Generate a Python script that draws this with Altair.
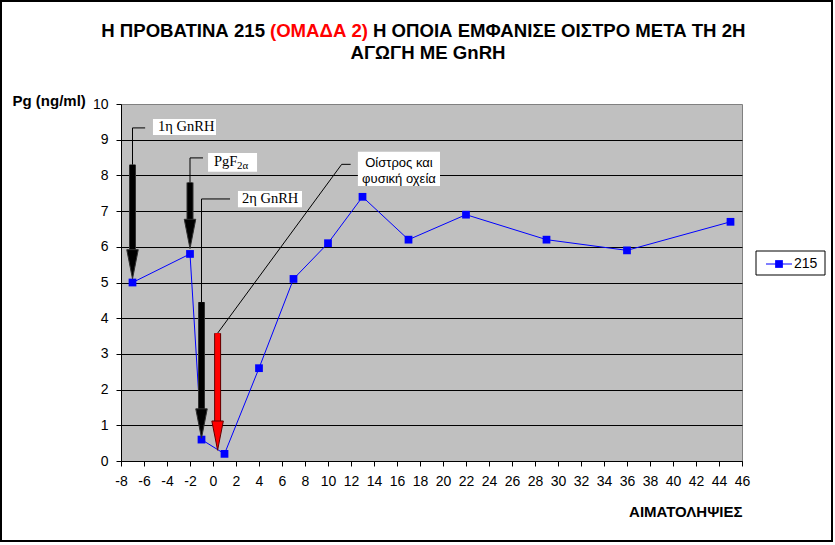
import altair as alt
import pandas as pd

# ---------------- data ----------------
days = [-7, -2, -1, 1, 4, 7, 10, 13, 17, 22, 29, 36, 45]
pg = [5.0, 5.8, 0.6, 0.2, 2.6, 5.1, 6.1, 7.4, 6.2, 6.9, 6.2, 5.9, 6.7]
series_name = "215"

x_ticks = list(range(-8, 47, 2))
y_ticks = list(range(0, 11))

title_left = "Η ΠΡΟΒΑΤΙΝΑ 215"
title_red = "(ΟΜΑΔΑ 2)"
title_right = "Η ΟΠΟΙΑ ΕΜΦΑΝΙΣΕ ΟΙΣΤΡΟ ΜΕΤΑ ΤΗ 2Η"
title_line2 = "ΑΓΩΓΗ ΜΕ GnRH"
y_title = "Pg (ng/ml)"
x_title = "ΑΙΜΑΤΟΛΗΨΙΕΣ"

# annotation arrows (data units)
arrow_x = [-7, -2, -1, 0.4]
arrow_top = [8.3, 7.8, 4.45, 3.58]
arrow_tip = [5.1, 5.95, 0.64, 0.3]
arrow_fill = ["#000000", "#000000", "#000000", "#FF0000"]
arrow_edge = ["#303030", "#303030", "#303030", "#600000"]

# leader lines (data units)
lead_x = [-7, -7, -2, -2, -1, -1, 0.4, 11.19]
lead_y = [8.3, 9.33, 7.8, 8.49, 4.45, 7.34, 3.58, 8.31]
lead_x2 = [-7, -5.9, -2, -0.87, -1, 1.48, 11.19, 11.97]
lead_y2 = [9.33, 9.33, 8.49, 8.49, 7.34, 7.34, 8.31, 8.31]

# label boxes (data units)
box_x = [-5.22, -0.43, 2.17, 12.6]
box_x2 = [0.26, 3.83, 7.74, 19.74]
box_y = [9.58, 8.63, 7.56, 8.66]
box_y2 = [9.13, 8.10, 7.11, 7.70]

serif_text = ["1η GnRH", "PgF", "2η GnRH"]
serif_x = [-4.78, 0.09, 2.52]
serif_y = [9.36, 8.38, 7.34]
sub_text = ["2α"]
sub_x = [2.09]
sub_y = [8.27]
sans_text = ["Οίστρος και", "φυσική οχεία"]
sans_x = [16.17, 16.17]
sans_y = [8.35, 7.9]

# ---------------- tables ----------------
df = pd.DataFrame({"day": days, "pg": pg, "series": series_name})
arrows = pd.DataFrame({"x": arrow_x, "top": arrow_top, "tip": arrow_tip,
                       "fill": arrow_fill, "edge": arrow_edge})
leads = pd.DataFrame({"x": lead_x, "y": lead_y, "x2": lead_x2, "y2": lead_y2})
boxes = pd.DataFrame({"x": box_x, "x2": box_x2, "y": box_y, "y2": box_y2})
serif = pd.DataFrame({"x": serif_x, "y": serif_y, "t": serif_text})
sub = pd.DataFrame({"x": sub_x, "y": sub_y, "t": sub_text})
sans = pd.DataFrame({"x": sans_x, "y": sans_y, "t": sans_text})
one = pd.DataFrame({"a": [0]})

FONT = "Liberation Sans"
SERIF = "Liberation Serif"

xscale = alt.Scale(domain=[-8, 46], nice=False, zero=False)
yscale = alt.Scale(domain=[0, 10], nice=False)
xaxis = alt.Axis(values=x_ticks, grid=False, title=x_title, labelFont=FONT,
                 labelFontSize=14, labelColor="black", labelPadding=8,
                 labelExpr="datum.value + ''",
                 tickColor="black", tickSize=5, domainColor="black",
                 titleFont=FONT, titleFontSize=15, titleFontWeight="bold",
                 titleColor="black", titleX=621, titleY=55, titleAlign="right",
                 titleBaseline="alphabetic", labelFlush=False, labelOverlap=False)
yaxis = alt.Axis(values=y_ticks, grid=True,
                 gridColor={"condition": {"test": "datum.value >= 10", "value": "transparent"},
                            "value": "black"},
                 gridWidth=1, title=y_title, labelFont=FONT, labelFontSize=14,
                 labelExpr="datum.value + ''",
                 labelColor="black", labelPadding=8, tickColor="black", tickSize=5,
                 domainColor="black", titleFont=FONT, titleFontSize=15,
                 titleFontWeight="bold", titleColor="black", titleAngle=0,
                 titleX=-109, titleY=1, titleAlign="left", titleBaseline="alphabetic",
                 labelFlush=False)


def X(f):
    return alt.X(f, type="quantitative", scale=xscale, axis=xaxis)


def Y(f):
    return alt.Y(f, type="quantitative", scale=yscale, axis=yaxis)


BLUE = "#0000FF"

line = alt.Chart(df).mark_line(color=BLUE, strokeWidth=1).encode(x=X("day"), y=Y("pg"))
pts = alt.Chart(df).mark_point(shape="square", filled=True, size=60, color=BLUE,
                               opacity=1).encode(x=X("day"), y=Y("pg"))

leaders = alt.Chart(leads).mark_rule(color="black", strokeWidth=1).encode(
    x=X("x"), y=Y("y"), x2="x2:Q", y2="y2:Q")

shaft_edge = alt.Chart(arrows).mark_rule(strokeWidth=7, y2Offset=-26).encode(
    x=X("x"), y=Y("top"), y2="tip:Q", color=alt.Color("edge:N", scale=None))
shaft = alt.Chart(arrows).mark_rule(strokeWidth=5, y2Offset=-26).encode(
    x=X("x"), y=Y("top"), y2="tip:Q", color=alt.Color("fill:N", scale=None))
HEAD = "M-1,-5.1L1,-5.1L0,0Z"
heads = alt.Chart(arrows).mark_point(shape=HEAD, size=132, filled=True, opacity=1,
                                     strokeWidth=1, strokeOpacity=1).encode(
    x=X("x"), y=Y("tip"), fill=alt.Fill("fill:N", scale=None),
    stroke=alt.Stroke("edge:N", scale=None))

box_layer = alt.Chart(boxes).mark_rect(color="white").encode(
    x=X("x"), x2="x2:Q", y=Y("y"), y2="y2:Q")
serif_layer = alt.Chart(serif).mark_text(font=SERIF, fontSize=14.5, align="left",
                                         baseline="middle", color="black").encode(
    x=X("x"), y=Y("y"), text="t:N")
sub_layer = alt.Chart(sub).mark_text(font=SERIF, fontSize=11, align="left",
                                     baseline="middle", color="black").encode(
    x=X("x"), y=Y("y"), text="t:N")
sans_layer = alt.Chart(sans).mark_text(font=FONT, fontSize=13, align="center",
                                       baseline="middle", color="black").encode(
    x=X("x"), y=Y("y"), text="t:N")

# ---- title pieces (pixel positions relative to plot area) ----
TS = 18.6
t1 = alt.Chart(one).mark_text(text=title_left, font=FONT, fontSize=TS, fontWeight="bold",
                              align="right", baseline="alphabetic", color="black").encode(
    x=alt.value(144), y=alt.value(-67))
t2 = alt.Chart(one).mark_text(text=title_red, font=FONT, fontSize=TS, fontWeight="bold",
                              align="center", baseline="alphabetic", color="#FF0000").encode(
    x=alt.value(198), y=alt.value(-67))
t3 = alt.Chart(one).mark_text(text=title_right, font=FONT, fontSize=TS, fontWeight="bold",
                              align="left", baseline="alphabetic", color="black").encode(
    x=alt.value(252), y=alt.value(-67))
t4 = alt.Chart(one).mark_text(text=title_line2, font=FONT, fontSize=TS, fontWeight="bold",
                              align="center", baseline="alphabetic", color="black").encode(
    x=alt.value(307), y=alt.value(-45))

# ---- legend (manual) ----
leg_box = alt.Chart(one).mark_rect(fill="white", stroke="black", strokeWidth=1).encode(
    x=alt.value(635), x2=alt.value(704), y=alt.value(147), y2=alt.value(171))
leg_line = alt.Chart(one).mark_rule(color=BLUE, strokeWidth=1).encode(
    x=alt.value(645), x2=alt.value(671), y=alt.value(160))
leg_pt = alt.Chart(one).mark_point(shape="square", filled=True, size=60, color=BLUE,
                                   opacity=1).encode(x=alt.value(658), y=alt.value(160))
leg_txt = alt.Chart(one).mark_text(text=series_name, font=FONT, fontSize=14, align="left",
                                   baseline="middle", color="black").encode(
    x=alt.value(673), y=alt.value(160))

# ---- outer frame ----
frame = alt.Chart(one).mark_rect(fillOpacity=0, stroke="black", strokeWidth=2).encode(
    x=alt.value(-120), x2=alt.value(711), y=alt.value(-103), y2=alt.value(437))

chart = alt.layer(
    line, pts, leaders, shaft_edge, shaft, heads, box_layer, serif_layer, sub_layer,
    sans_layer, t1, t2, t3, t4, leg_box, leg_line, leg_pt, leg_txt, frame
).properties(
    width=621, height=357,
    autosize=alt.AutoSizeParams(type="none"),
    padding={"left": 121, "top": 104, "right": 93, "bottom": 84},
    background="white",
).configure_view(fill="#C0C0C0", stroke="#808080", strokeWidth=1)

chart.save("out.html", embed_options={"renderer": "svg", "actions": False})
